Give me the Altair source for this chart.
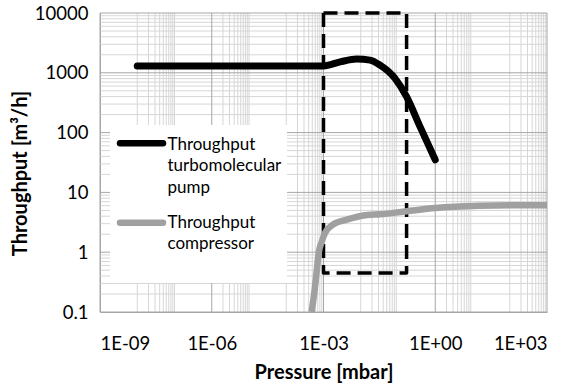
import altair as alt
import pandas as pd

# ---- data ----
turbo_p = [1e-8, 1e-5, 1e-3, 2.8e-3, 7.8e-3, 1.77e-2, 3.3e-2, 8.3e-2, 0.17, 0.39, 1.0]
turbo_q = [1300, 1300, 1300, 1525, 1700, 1630, 1340, 806, 398, 126, 35]

comp_p = [4.8e-4, 5.6e-4, 6.5e-4, 7.5e-4, 9e-4, 1.1e-3, 1.8e-3, 4.2e-3, 1.5e-2,
          3.3e-2, 0.17, 1.0, 15, 100, 1000]
comp_q = [0.1, 0.2, 0.45, 1.0, 1.5, 2.1, 2.9, 3.5, 4.2, 4.3, 4.85, 5.5, 6.0, 6.1, 6.1]

box_p = [1e-3, 0.17]
box_q = [0.45, 10000]

x_ticks = [1e-9, 1e-6, 1e-3, 1, 1e3]
x_tick_labels = ["1E-09", "1E-06", "1E-03", "1E+00", "1E+03"]
y_ticks = [0.1, 1, 10, 100, 1000, 10000]

v_minor = [1e-8, 2e-8, 3e-8, 4e-8, 5e-8, 6e-8, 7e-8, 8e-8, 9e-8, 1e-7,
           2e-6, 3e-6, 4e-6, 5e-6, 6e-6, 7e-6, 8e-6, 9e-6, 1e-5,
           1e-4, 2e-4, 3e-4, 4e-4, 5e-4, 6e-4, 7e-4, 8e-4, 9e-4,
           1e-2, 2e-2, 3e-2, 4e-2, 5e-2, 6e-2, 7e-2, 8e-2, 9e-2,
           2, 3, 4, 5, 6, 7, 8, 9,
           100, 200, 300, 400, 500, 600, 700, 800, 900]
h_minor = [0.2, 0.3, 0.4, 0.5, 0.6, 0.7, 0.8, 0.9,
           2, 3, 4, 5, 6, 7, 8, 9,
           20, 30, 40, 50, 60, 70, 80, 90,
           200, 300, 400, 500, 600, 700, 800, 900,
           2000, 3000, 4000, 5000, 6000, 7000, 8000, 9000]

legend_labels = ["Throughput\nturbomolecular\npump", "Throughput\ncompressor"]
series_colors = ["#000000", "#a0a0a0"]

FONT = "Lato"
MAJOR = "#a6a6a6"
MINOR = "#d6d6d6"

label_array = "[" + ",".join("'%s'" % s for s in x_tick_labels) + "]"

xs = alt.Scale(type="log", domain=[x_ticks[0], x_ticks[-1]], nice=False)
ys = alt.Scale(type="log", domain=[y_ticks[0], y_ticks[-1]], nice=False)

X_AX = alt.Axis(values=x_ticks, labelExpr=label_array + "[round((log(datum.value)/LN10 + 9)/3)]",
                grid=False, ticks=False, tickSize=0, labelPadding=22,
                domainColor=MAJOR, labelFont=FONT, labelFontSize=18.5, labelColor="#000000",
                title="Pressure [mbar]", titleFont=FONT, titleFontSize=20, titleFontWeight="bold",
                titleBaseline="alphabetic", titleY=66, titleColor="#000000")
Y_AX = alt.Axis(values=y_ticks, format="~g", grid=False, ticks=False, tickSize=0, labelPadding=12,
                domainColor=MAJOR, labelFont=FONT, labelFontSize=18.5, labelColor="#000000",
                title="Throughput [m³/h]", titleFont=FONT, titleFontSize=20, titleFontWeight="bold",
                titleBaseline="alphabetic", titleX=-74, titleY=160, titleAlign="center",
                titleColor="#000000")


def X(f):
    return alt.X(f, type="quantitative", scale=xs, axis=X_AX)


def Y(f):
    return alt.Y(f, type="quantitative", scale=ys, axis=Y_AX)


vmin_df = pd.DataFrame({"p": v_minor})
hmin_df = pd.DataFrame({"q": h_minor})
vmaj_df = pd.DataFrame({"p": x_ticks})
hmaj_df = pd.DataFrame({"q": y_ticks})
turbo_df = pd.DataFrame({"p": turbo_p, "q": turbo_q})
comp_df = pd.DataFrame({"p": comp_p, "q": comp_q})
box_df = pd.DataFrame({"p": [box_p[0]], "p2": [box_p[1]], "q": [box_q[0]], "q2": [box_q[1]]})
one = pd.DataFrame({"a": [0]})

grid_vmin = alt.Chart(vmin_df).mark_rule(color=MINOR, strokeWidth=1).encode(x=X("p"))
grid_hmin = alt.Chart(hmin_df).mark_rule(color=MINOR, strokeWidth=1).encode(y=Y("q"))
grid_vmaj = alt.Chart(vmaj_df).mark_rule(color=MAJOR, strokeWidth=1).encode(x=X("p"))
grid_hmaj = alt.Chart(hmaj_df).mark_rule(color=MAJOR, strokeWidth=1).encode(y=Y("q"))

legend_box = alt.Chart(one).mark_rect(fill="white").encode(
    x=alt.value(10), x2=alt.value(187), y=alt.value(112), y2=alt.value(270))

box = alt.Chart(box_df).mark_rect(fill=None, filled=False, stroke="black", strokeWidth=3.5,
                                  strokeDash=[14, 7], strokeJoin="round").encode(
    x=X("p"), x2="p2", y=Y("q"), y2="q2")

turbo = alt.Chart(turbo_df).mark_line(color=series_colors[0], strokeWidth=7, interpolate="monotone",
                                      strokeCap="round", strokeJoin="round", clip=True).encode(
    x=X("p"), y=Y("q"))
comp = alt.Chart(comp_df).mark_line(color=series_colors[1], strokeWidth=6.5, interpolate="monotone",
                                    strokeCap="butt", strokeJoin="round", clip=True).encode(
    x=X("p"), y=Y("q"))

leg_layers = []
sym_y = [130.3, 209.7]
txt_y = [123.6, 201.9]
for i, lab in enumerate(legend_labels):
    d = pd.DataFrame({"label": [lab]})
    leg_layers.append(alt.Chart(d).mark_rule(color=series_colors[i], strokeWidth=6.5, strokeCap="round").encode(
        x=alt.value(20), x2=alt.value(63), y=alt.value(sym_y[i])))
    leg_layers.append(alt.Chart(d).mark_text(align="left", baseline="top", font=FONT, fontSize=17,
                                             lineBreak="\n", lineHeight=21.5, color="#000000").encode(
        x=alt.value(67.5), y=alt.value(txt_y[i]), text="label:N"))

chart = alt.layer(grid_vmin, grid_hmin, grid_vmaj, grid_hmaj, legend_box, box, comp, turbo,
                  *leg_layers).properties(
    width=447, height=299,
    padding={"left": 100, "top": 13, "right": 27, "bottom": 74},
    autosize=alt.AutoSizeParams(type="none"),
    background="white",
).configure_view(stroke=None)

chart.save("out.html", embed_options={"renderer": "svg", "actions": False})
